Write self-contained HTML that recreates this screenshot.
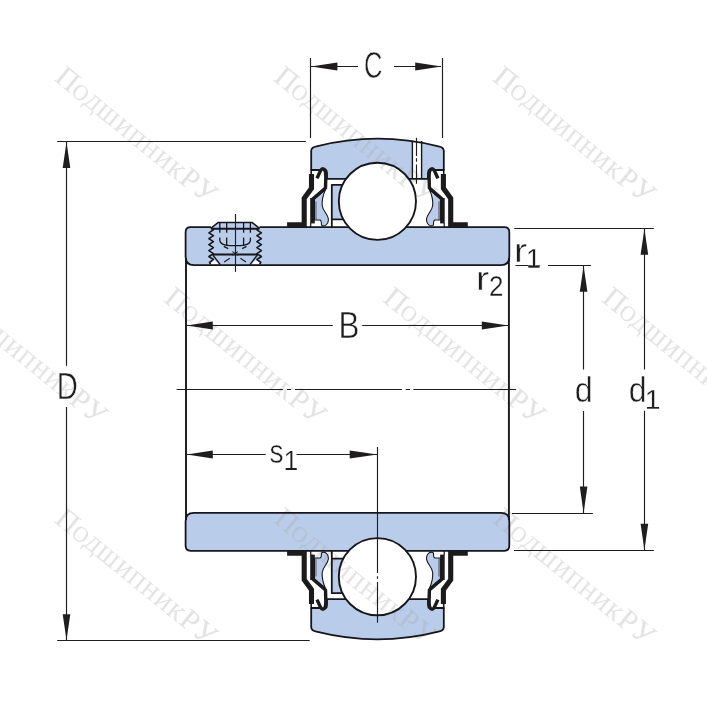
<!DOCTYPE html>
<html lang="ru">
<head>
<meta charset="utf-8">
<title>Подшипник — схема</title>
<style>
html,body{margin:0;padding:0;background:#fff;}
body{width:707px;height:713px;overflow:hidden;}
svg{display:block;}
.lbl{font-family:"Liberation Sans",sans-serif;fill:#1f1d1e;stroke:#fff;stroke-width:0.5;paint-order:fill stroke;}
.sub{stroke-width:0.25;}
.wm{font-family:"Liberation Serif",serif;font-size:21.8px;letter-spacing:1.25px;fill:#aaa;stroke:#aaa;stroke-width:0.15;opacity:0.33;}
.sc{text-transform:uppercase;}
.cp{font-size:29.5px;}
.thin{stroke:#1f1d1e;stroke-width:1.15;fill:none;}
.ol{stroke:#16161c;fill:none;stroke-linejoin:round;}
.ar{fill:#1f1d1e;}
</style>
</head>
<body>
<svg width="707" height="713" viewBox="0 0 707 713">
<rect width="707" height="713" fill="#fff"/>

<!-- ===== layer 1: colour fills ===== -->
<g id="fills">
<g>
<path d="M348.8 227.2 H190.6 Q185.6 227.2 185.6 232.2 V256.8 Q185.6 265.1 193.9 265.1 H501 Q509.3 265.1 509.3 256.8 V232.2 Q509.3 227.2 504.3 227.2 H406" fill="#b9cdea"/>
<path d="M346 178.8 H327 V173 Q327 167 320.4 170 H311.2 V150.7 Q311.4 147 316.5 146.3 A250 250 0 0 1 438.5 146.3 Q443.6 147 443.8 150.7 V170 H434.6 Q428 167 428 173 V178.8 H408.8" fill="#b9cdea"/>
<path d="M331.8 184.8 H350 V219.4 H331.8 Z" fill="#b9cdea"/>
<circle cx="377.4" cy="201.3" r="38.6" fill="#fff"/>
<path d="M314.5 199 L325.5 189.5 C323 195 321.8 200 322.2 205.5 C322.8 211.5 328.6 214.5 328.4 220 C328.2 224.6 324.8 226.6 322 225.6 C320.4 224.2 322.6 221.6 320.2 220 H314.5 Z" fill="#b9cdea"/>
<g transform="translate(754.9 0) scale(-1 1)"><path d="M314.5 199 L325.5 189.5 C323 195 321.8 200 322.2 205.5 C322.8 211.5 328.6 214.5 328.4 220 C328.2 224.6 324.8 226.6 322 225.6 C320.4 224.2 322.6 221.6 320.2 220 H314.5 Z" fill="#b9cdea"/></g>
</g>
<g transform="translate(0 778) scale(1 -1)">
<path d="M348.8 227.2 H190.6 Q185.6 227.2 185.6 232.2 V256.8 Q185.6 265.1 193.9 265.1 H501 Q509.3 265.1 509.3 256.8 V232.2 Q509.3 227.2 504.3 227.2 H406" fill="#b9cdea"/>
<path d="M346 178.8 H327 V173 Q327 167 320.4 170 H311.2 V150.7 Q311.4 147 316.5 146.3 A250 250 0 0 1 438.5 146.3 Q443.6 147 443.8 150.7 V170 H434.6 Q428 167 428 173 V178.8 H408.8" fill="#b9cdea"/>
<path d="M331.8 184.8 H350 V219.4 H331.8 Z" fill="#b9cdea"/>
<circle cx="377.4" cy="201.3" r="38.6" fill="#fff"/>
<path d="M314.5 199 L325.5 189.5 C323 195 321.8 200 322.2 205.5 C322.8 211.5 328.6 214.5 328.4 220 C328.2 224.6 324.8 226.6 322 225.6 C320.4 224.2 322.6 221.6 320.2 220 H314.5 Z" fill="#b9cdea"/>
<g transform="translate(754.9 0) scale(-1 1)"><path d="M314.5 199 L325.5 189.5 C323 195 321.8 200 322.2 205.5 C322.8 211.5 328.6 214.5 328.4 220 C328.2 224.6 324.8 226.6 322 225.6 C320.4 224.2 322.6 221.6 320.2 220 H314.5 Z" fill="#b9cdea"/></g>
</g>
<!-- lubrication hole -->
<path d="M412.4 141.2 H421.6 V178 H412.4 Z" fill="#fff"/>
<!-- grub screw recess -->
<path d="M211 228.4 L218.3 222.4 H252 L259.3 228.4 V254.6 H211 Z" fill="#b9cdea"/>
<path d="M213.8 259.5 L218.6 264.3 H210 Z M256.5 259.5 L251.7 264.3 H260.3 Z" fill="#fff"/>
</g>

<!-- ===== layer 2: watermark ===== -->
<g class="wm">
  <text transform="translate(53.5 79.8) rotate(39.2) scale(1 1)"><tspan class="cp">П</tspan><tspan class="sc" dx="-1.2">одшипник</tspan><tspan class="cp">Р</tspan><tspan class="cp sc">у</tspan></text>
  <text transform="translate(272.5 79.8) rotate(39.2) scale(1 1)"><tspan class="cp">П</tspan><tspan class="sc" dx="-1.2">одшипник</tspan><tspan class="cp">Р</tspan><tspan class="cp sc">у</tspan></text>
  <text transform="translate(491.5 79.8) rotate(39.2) scale(1 1)"><tspan class="cp">П</tspan><tspan class="sc" dx="-1.2">одшипник</tspan><tspan class="cp">Р</tspan><tspan class="cp sc">у</tspan></text>
  <text transform="translate(-56.3 300.7) rotate(39.2) scale(1 1)"><tspan class="cp">П</tspan><tspan class="sc" dx="-1.2">одшипник</tspan><tspan class="cp">Р</tspan><tspan class="cp sc">у</tspan></text>
  <text transform="translate(162.7 300.7) rotate(39.2) scale(1 1)"><tspan class="cp">П</tspan><tspan class="sc" dx="-1.2">одшипник</tspan><tspan class="cp">Р</tspan><tspan class="cp sc">у</tspan></text>
  <text transform="translate(381.7 300.7) rotate(39.2) scale(1 1)"><tspan class="cp">П</tspan><tspan class="sc" dx="-1.2">одшипник</tspan><tspan class="cp">Р</tspan><tspan class="cp sc">у</tspan></text>
  <text transform="translate(600.7 300.7) rotate(39.2) scale(1 1)"><tspan class="cp">П</tspan><tspan class="sc" dx="-1.2">одшипник</tspan><tspan class="cp">Р</tspan><tspan class="cp sc">у</tspan></text>
  <text transform="translate(53.5 521.5) rotate(39.2) scale(1 1)"><tspan class="cp">П</tspan><tspan class="sc" dx="-1.2">одшипник</tspan><tspan class="cp">Р</tspan><tspan class="cp sc">у</tspan></text>
  <text transform="translate(272.5 521.5) rotate(39.2) scale(1 1)"><tspan class="cp">П</tspan><tspan class="sc" dx="-1.2">одшипник</tspan><tspan class="cp">Р</tspan><tspan class="cp sc">у</tspan></text>
  <text transform="translate(491.5 521.5) rotate(39.2) scale(1 1)"><tspan class="cp">П</tspan><tspan class="sc" dx="-1.2">одшипник</tspan><tspan class="cp">Р</tspan><tspan class="cp sc">у</tspan></text>
</g>

<!-- ===== layer 3: line work ===== -->
<g id="lines">
<g>
<path d="M348.8 227.2 H259.5 M211 227.2 H190.6 Q185.6 227.2 185.6 232.2 V256.8 Q185.6 265.1 193.9 265.1 H501 Q509.3 265.1 509.3 256.8 V232.2 Q509.3 227.2 504.3 227.2 H406" fill="none" stroke="#16161c" stroke-width="1.8" stroke-linejoin="round"/>
<path d="M346 178.8 H327 V173 Q327 167 320.4 170 H311.2 V150.7 Q311.4 147 316.5 146.3 A250 250 0 0 1 438.5 146.3 Q443.6 147 443.8 150.7 V170 H434.6 Q428 167 428 173 V178.8 H408.8" fill="none" stroke="#16161c" stroke-width="1.8" stroke-linejoin="round"/>
<path d="M342.6 184.8 H331.8 V227 M331.8 219.4 H343.4" fill="none" stroke="#16161c" stroke-width="1.8" stroke-linejoin="round"/>
<circle cx="377.4" cy="201.3" r="38.6" fill="none" stroke="#16161c" stroke-width="1.9"/>
<path d="M314.5 199 L325.5 189.5 C323 195 321.8 200 322.2 205.5 C322.8 211.5 328.6 214.5 328.4 220 C328.2 224.6 324.8 226.6 322 225.6 C320.4 224.2 322.6 221.6 320.2 220 H314.5 Z" fill="none" stroke="#16161c" stroke-width="1.1" stroke-linejoin="round"/>
<path d="M316 201.5 V219.5" fill="none" stroke="#1c1a1b" stroke-width="1.6" stroke-opacity="0.4"/>
<path d="M311.2 169 V176" fill="none" stroke="#16161c" stroke-width="1.6"/>
<path d="M287.1 224.8 H304.2 V198.3 L311.5 188.3 V174" fill="none" stroke="#1c1a1b" stroke-width="5.1"/>
<path d="M312.5 223.4 V198" fill="none" stroke="#1c1a1b" stroke-width="4.6"/>
<path d="M311.6 200 L325.5 188 L325.8 177.5 C325.8 171 324.5 168.8 322.7 168.8 C321.1 168.8 319.7 172.5 317 178.4" fill="none" stroke="#1c1a1b" stroke-width="3.4" stroke-linejoin="round"/>
<path d="M310.7 223 V227" fill="none" stroke="#16161c" stroke-width="1.2"/>
<g transform="translate(754.9 0) scale(-1 1)"><path d="M314.5 199 L325.5 189.5 C323 195 321.8 200 322.2 205.5 C322.8 211.5 328.6 214.5 328.4 220 C328.2 224.6 324.8 226.6 322 225.6 C320.4 224.2 322.6 221.6 320.2 220 H314.5 Z" fill="none" stroke="#16161c" stroke-width="1.1" stroke-linejoin="round"/>
<path d="M316 201.5 V219.5" fill="none" stroke="#1c1a1b" stroke-width="1.6" stroke-opacity="0.4"/>
<path d="M311.2 169 V176" fill="none" stroke="#16161c" stroke-width="1.6"/>
<path d="M287.1 224.8 H304.2 V198.3 L311.5 188.3 V174" fill="none" stroke="#1c1a1b" stroke-width="5.1"/>
<path d="M312.5 223.4 V198" fill="none" stroke="#1c1a1b" stroke-width="4.6"/>
<path d="M311.6 200 L325.5 188 L325.8 177.5 C325.8 171 324.5 168.8 322.7 168.8 C321.1 168.8 319.7 172.5 317 178.4" fill="none" stroke="#1c1a1b" stroke-width="3.4" stroke-linejoin="round"/>
<path d="M310.7 223 V227" fill="none" stroke="#16161c" stroke-width="1.2"/></g>
</g>
<g transform="translate(0 778) scale(1 -1)">
<path d="M348.8 227.2 H190.6 Q185.6 227.2 185.6 232.2 V256.8 Q185.6 265.1 193.9 265.1 H501 Q509.3 265.1 509.3 256.8 V232.2 Q509.3 227.2 504.3 227.2 H406" fill="none" stroke="#16161c" stroke-width="1.8" stroke-linejoin="round"/>
<path d="M346 178.8 H327 V173 Q327 167 320.4 170 H311.2 V150.7 Q311.4 147 316.5 146.3 A250 250 0 0 1 438.5 146.3 Q443.6 147 443.8 150.7 V170 H434.6 Q428 167 428 173 V178.8 H408.8" fill="none" stroke="#16161c" stroke-width="1.8" stroke-linejoin="round"/>
<path d="M342.6 184.8 H331.8 V227 M331.8 219.4 H343.4" fill="none" stroke="#16161c" stroke-width="1.8" stroke-linejoin="round"/>
<circle cx="377.4" cy="201.3" r="38.6" fill="none" stroke="#16161c" stroke-width="1.9"/>
<path d="M314.5 199 L325.5 189.5 C323 195 321.8 200 322.2 205.5 C322.8 211.5 328.6 214.5 328.4 220 C328.2 224.6 324.8 226.6 322 225.6 C320.4 224.2 322.6 221.6 320.2 220 H314.5 Z" fill="none" stroke="#16161c" stroke-width="1.1" stroke-linejoin="round"/>
<path d="M316 201.5 V219.5" fill="none" stroke="#1c1a1b" stroke-width="1.6" stroke-opacity="0.4"/>
<path d="M311.2 169 V176" fill="none" stroke="#16161c" stroke-width="1.6"/>
<path d="M287.1 224.8 H304.2 V198.3 L311.5 188.3 V174" fill="none" stroke="#1c1a1b" stroke-width="5.1"/>
<path d="M312.5 223.4 V198" fill="none" stroke="#1c1a1b" stroke-width="4.6"/>
<path d="M311.6 200 L325.5 188 L325.8 177.5 C325.8 171 324.5 168.8 322.7 168.8 C321.1 168.8 319.7 172.5 317 178.4" fill="none" stroke="#1c1a1b" stroke-width="3.4" stroke-linejoin="round"/>
<path d="M310.7 223 V227" fill="none" stroke="#16161c" stroke-width="1.2"/>
<g transform="translate(754.9 0) scale(-1 1)"><path d="M314.5 199 L325.5 189.5 C323 195 321.8 200 322.2 205.5 C322.8 211.5 328.6 214.5 328.4 220 C328.2 224.6 324.8 226.6 322 225.6 C320.4 224.2 322.6 221.6 320.2 220 H314.5 Z" fill="none" stroke="#16161c" stroke-width="1.1" stroke-linejoin="round"/>
<path d="M316 201.5 V219.5" fill="none" stroke="#1c1a1b" stroke-width="1.6" stroke-opacity="0.4"/>
<path d="M311.2 169 V176" fill="none" stroke="#16161c" stroke-width="1.6"/>
<path d="M287.1 224.8 H304.2 V198.3 L311.5 188.3 V174" fill="none" stroke="#1c1a1b" stroke-width="5.1"/>
<path d="M312.5 223.4 V198" fill="none" stroke="#1c1a1b" stroke-width="4.6"/>
<path d="M311.6 200 L325.5 188 L325.8 177.5 C325.8 171 324.5 168.8 322.7 168.8 C321.1 168.8 319.7 172.5 317 178.4" fill="none" stroke="#1c1a1b" stroke-width="3.4" stroke-linejoin="round"/>
<path d="M310.7 223 V227" fill="none" stroke="#16161c" stroke-width="1.2"/></g>
</g>

<!-- bore lines -->
<path d="M186 258 V520 M508.9 258 V520" stroke="#16161c" stroke-width="1.9" fill="none"/>

<!-- lubrication hole -->
<path class="ol" stroke-width="1.4" d="M412.4 140.6 V178.8 M421.6 141 V178.8"/>
<path class="thin" d="M416.5 137.8 V156 M416.5 158.3 V161.8 M416.5 164.6 V183.7"/>

<!-- grub screw -->
<g>
  <path class="ol" stroke-width="1.5" d="M210.8 228.4 L218.3 222.4 H252 L259.5 228.4"/>
  <path class="ol" stroke-width="2" d="M210.8 228.7 H259.5 M212.6 254.6 H257.6"/>
  <path class="ol" stroke-width="1.3" d="M219.8 222.4 V232.8 M226.7 222.4 V232.8 M243.6 222.4 V232.8 M250.4 222.4 V232.8"/>
  <path class="ol" stroke-width="1.6" stroke-linejoin="miter" d="M212.4 228.4 L213.4 229.8 L208.9 232.8 L213.4 235.7 L208.9 238.7 L213.4 241.7 L208.9 244.7 L213.4 247.6 L208.9 250.6 L213.4 253.6 L208.9 256.5 L213.4 259.5 L209.5 262.4 L210.6 264.3"/>
  <path class="ol" stroke-width="1.6" stroke-linejoin="miter" d="M257.9 228.4 L256.9 229.8 L261.4 232.8 L256.9 235.7 L261.4 238.7 L256.9 241.7 L261.4 244.7 L256.9 247.6 L261.4 250.6 L256.9 253.6 L261.4 256.5 L256.9 259.5 L260.8 262.4 L259.7 264.3"/>
  <path class="ol" stroke-width="1.3" d="M219.8 237.6 V240.6 C219.8 243.4 224 245.4 229.5 245.6 H240.7 C246.2 245.4 250.4 243.4 250.4 240.6 V237.6 M226.7 237.6 V244.8 M243.6 237.6 V244.8 M223.8 246.4 L228.2 248.6 M246.5 246.4 L242.2 248.6"/>
  <path class="ol" stroke-width="1.4" d="M212.8 255 L220.3 264.6 M257.4 255 L249.9 264.6"/>
  <path class="thin" d="M229.8 258.3 L224.2 262 M240.4 258.3 L246 262 M232.4 251.6 L237.8 255.4 M237.8 251.6 L232.4 255.4"/>
  <path class="thin" d="M235.5 214 V271.9"/>
</g>

<!-- centre line -->
<path class="thin" d="M176.6 389.5 H282.9 M287 389.5 H291 M295 389.5 H402 M405.7 389.5 H410 M413.4 389.5 H516.2"/>
<!-- s1 vertical reference -->
<path class="thin" d="M377.5 447 V573 M377.5 576.3 V578.7 M377.5 582 V622.8"/>

<!-- dimension C -->
<path class="thin" d="M310.5 58 V138 M442.5 58 V138 M311 66.5 H358 M394 66.5 H441"/>
<path class="ar" d="M311 66.5 L337.4 62.6 V70.4 Z M441.6 66.5 L415.2 62.6 V70.4 Z"/>
<!-- dimension D -->
<path class="thin" d="M57.2 141.5 H305.8 M57.2 640.5 H309.7 M66.5 142 V365.7 M66.5 407.1 V640"/>
<path class="ar" d="M66.5 142 L62.7 168.0 H70.3 Z M66.5 640.2 L62.7 614.2 H70.3 Z"/>
<!-- dimension B -->
<path class="thin" d="M187 325.5 H332.8 M362.2 325.5 H508"/>
<path class="ar" d="M186.8 325.5 L212.8 321.6 V329.4 Z M508.4 325.5 L481.8 321.6 V329.4 Z"/>
<!-- dimension s1 -->
<path class="thin" d="M187 454.5 H265.8 M296.5 454.5 H377"/>
<path class="ar" d="M186.8 454.5 L212.8 450.6 V458.4 Z M377.4 454.5 L349.7 450.6 V458.4 Z"/>
<!-- dimension d -->
<path class="thin" d="M515.5 265.5 H540 M548.1 265.5 H590.9 M512 513.5 H592.8 M583.5 266 V369.5 M583.5 411 V513"/>
<path class="ar" d="M583.6 265.8 L579.8000000000001 291.8 H587.4 Z M583.6 513.2 L579.8000000000001 486.6 H587.4 Z"/>
<!-- dimension d1 -->
<path class="thin" d="M514.3 228.5 H653.8 M514 550.5 H653.9 M644.5 229 V369.5 M644.5 410.7 V550"/>
<path class="ar" d="M644.4 228.8 L640.6 254.8 H648.1999999999999 Z M644.4 550.2 L640.6 523.7 H648.1999999999999 Z"/>

<!-- labels -->
<g class="lbl">
  <text transform="translate(364.1 77.6) scale(0.698 1)" font-size="36.6">C</text>
  <text transform="translate(56.8 398.7) scale(0.794 1)" font-size="36.8">D</text>
  <text transform="translate(338.5 337.9) scale(0.847 1)" font-size="37.0">B</text>
  <text transform="translate(574.7 401.7) scale(0.929 1)" font-size="34.7">d</text>
  <text transform="translate(628.8 401.7) scale(0.922 1)" font-size="34.7">d</text>
  <text class="sub" transform="translate(644.7 408.6) scale(1.03 1)" font-size="27.5">1</text>
  <text transform="translate(269.6 462.8) scale(0.868 1)" font-size="32.3">s</text>
  <text class="sub" transform="translate(283.6 469.9) scale(0.938 1)" font-size="28.3">1</text>
  <text transform="translate(513.7 262.0) scale(1.224 1)" font-size="33.3">r</text>
  <text class="sub" transform="translate(525.9 267.8) scale(0.968 1)" font-size="28.1">1</text>
  <text transform="translate(475.8 289.9) scale(1.217 1)" font-size="33.5">r</text>
  <text class="sub" transform="translate(489.1 296.1) scale(0.89 1)" font-size="29.1">2</text>
</g>
</g>
</svg>
</body>
</html>
